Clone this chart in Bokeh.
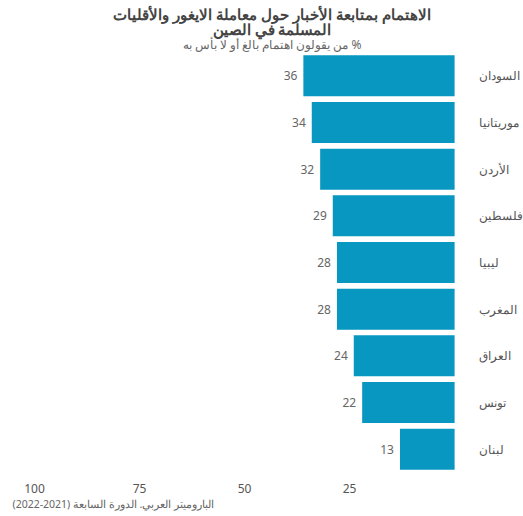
from bokeh.plotting import figure
from bokeh.models import Range1d, FactorRange, ColumnDataSource, Title, FixedTicker
from bokeh.core.properties import value
from bokeh.embed import file_html
from bokeh.resources import INLINE

countries = ["السودان", "موريتانيا", "الأردن", "فلسطين", "ليبيا", "المغرب", "العراق", "تونس", "لبنان"]
values = [36, 34, 32, 29, 28, 28, 24, 22, 13]
ticks = [25, 50, 75, 100]

title_l1 = "الاهتمام بمتابعة الأخبار حول معاملة الايغور والأقليات"
title_l2 = "المسلمة في الصين"
subtitle = "\u202B% من يقولون اهتمام بالغ أو لا بأس به\u202C"
source_txt = "\u202Bالباروميتر العربي. الدورة السابعة (2021-2022)\u202C"

FONT = "Noto Sans"
BAR = "#0797C1"

src = ColumnDataSource(dict(country=countries, val=values, lbl=[str(v) for v in values], zero=[0] * len(values)))

p = figure(width=523, height=516, output_backend="svg", toolbar_location=None,
           x_range=Range1d(103.33, -16.4),
           y_range=FactorRange(factors=list(reversed(countries)), range_padding=0),
           min_border_left=20, min_border_right=0, min_border_top=52, min_border_bottom=44)

p.hbar(y="country", left=0, right="val", height=0.88, source=src, color=BAR, line_color=None)
p.text(x="val", y="country", text="lbl", source=src, x_offset=-6, text_align="right",
       text_baseline="middle", text_font=value(FONT), text_font_size="12px", text_color="#666666")
p.text(x="zero", y="country", text="country", source=src, x_offset=24, text_align="left",
       text_baseline="middle", text_font=value(FONT), text_font_size="11.5px", text_color="#555555")

p.yaxis.visible = False
p.xaxis.ticker = FixedTicker(ticks=ticks)
p.xaxis.axis_line_color = None
p.xaxis.major_tick_line_color = None
p.xaxis.minor_tick_line_color = None
p.xaxis.major_tick_out = 0
p.xaxis.major_label_text_font = FONT
p.xaxis.major_label_text_font_size = "12px"
p.xaxis.major_label_text_color = "#555555"
p.xaxis.major_label_standoff = 11
p.xgrid.grid_line_color = None
p.ygrid.grid_line_color = None
p.outline_line_color = None

# titles stacked above the frame (first added sits closest to the frame)
p.add_layout(Title(text=subtitle, align="center", offset=-28, standoff=0, text_font=FONT,
                   text_font_size="12px", text_font_style="normal", text_color="#666666"), "above")
p.add_layout(Title(text=title_l2, align="center", offset=-28, standoff=-10, text_font=FONT,
                   text_font_size="15px", text_font_style="bold", text_color="#444444"), "above")
p.add_layout(Title(text=title_l1, align="center", offset=-28, standoff=-4, text_font=FONT,
                   text_font_size="15px", text_font_style="bold", text_color="#444444"), "above")

p.add_layout(Title(text=source_txt, align="left", offset=-8, standoff=-1, text_font=FONT,
                   text_font_size="10.5px", text_font_style="normal", text_color="#666666"), "below")

open("out.html", "w").write(file_html(p, INLINE))
